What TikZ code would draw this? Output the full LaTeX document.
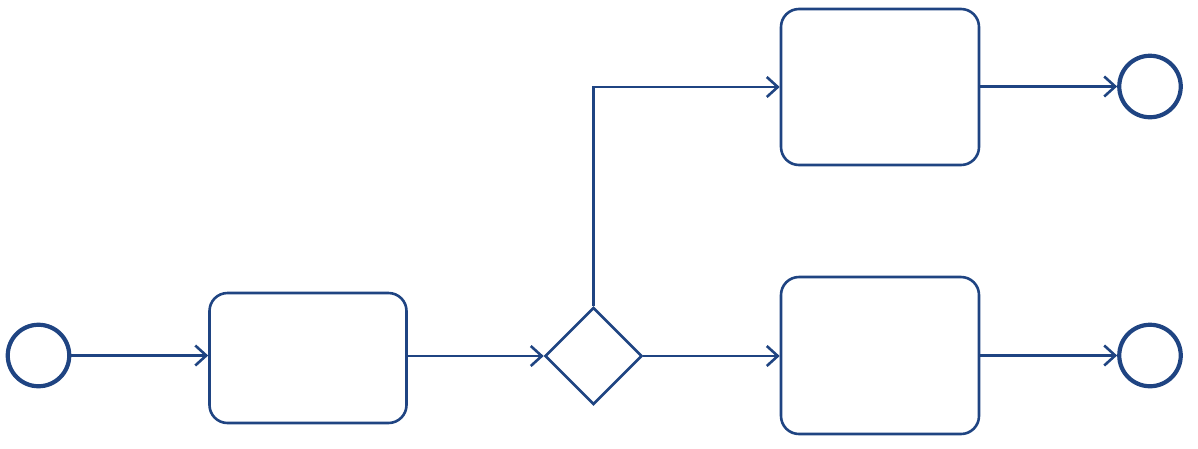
\documentclass[tikz,border=0pt]{standalone}
\usetikzlibrary{shapes.geometric,arrows.meta}
\definecolor{bpmn}{RGB}{31,68,130}
\begin{document}
\begin{tikzpicture}[x=1pt,y=-1pt,
  evt/.style={circle,draw=bpmn,line width=4.2pt,minimum size=61.5pt,inner sep=0pt},
  task/.style={rectangle,draw=bpmn,line width=2.6pt,rounded corners=18pt,inner sep=0pt},
  gate/.style={diamond,draw=bpmn,line width=2.6pt,minimum width=97pt,minimum height=97pt,inner sep=0pt},
  flow/.style={draw=bpmn,line width=2.6pt,-{Straight Barb[length=11pt,width=20pt,line width=2.6pt]}}]
\useasboundingbox (0,0) rectangle (1198,448);
\node[evt] (s) at (38.5,355.5) {};
\node[task,minimum width=197pt,minimum height=130pt] (b1) at (308,358) {};
\node[gate] (g) at (593.5,356) {};
\node[task,minimum width=198pt,minimum height=156pt] (t1) at (880,87) {};
\node[task,minimum width=198pt,minimum height=157pt] (t2) at (880,355.5) {};
\node[evt] (e1) at (1150,86.5) {};
\node[evt] (e2) at (1150,355.5) {};
\draw[flow] (s.east) -- (s.east -| b1.west);
\draw[flow] (b1.east |- g.west) -- (g.west);
\draw[flow] (g.north) |- (t1.west);
\draw[flow] (g.east) -- (g.east -| t2.west);
\draw[flow] (t1.east |- e1.west) -- (e1.west);
\draw[flow] (t2.east |- e2.west) -- (e2.west);
\end{tikzpicture}
\end{document}
